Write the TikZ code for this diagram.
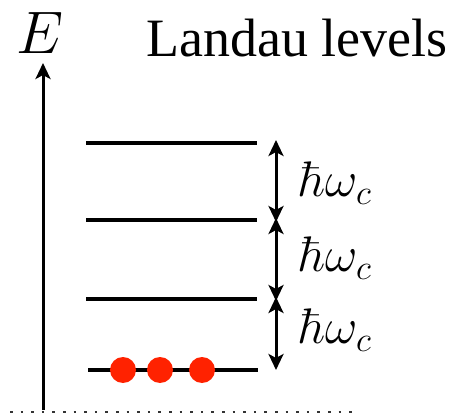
\documentclass[tikz,border=0pt]{standalone}
\usepackage{fix-cm}
\usepackage{amsmath}
\usepackage[no-math]{fontspec}
\setmainfont{Liberation Serif}
\usetikzlibrary{arrows.meta}
\definecolor{dot-red}{HTML}{FF2200}

\begin{document}
\begin{tikzpicture}[x=1pt, y=-1pt,
    level/.style={line width=3.3pt},
    gap/.style={line width=3pt, {Stealth[length=16pt,width=15pt,inset=4pt]}-{Stealth[length=16pt,width=15pt,inset=4pt]}},
    electron/.style={circle, fill=dot-red, inner sep=0pt, minimum size=26pt}]
    \useasboundingbox (0,0) rectangle (450,417);
    % energy axis
    \coordinate (base) at (43,410);
    \coordinate (top) at (43,63);
    \draw[line width=3pt, -{Stealth[length=16pt,width=15pt,inset=4pt]}] (base) -- (top);
    \node (elab) at (40,33) {\fontsize{60}{60}\selectfont$E$};
    \node[anchor=west] (title) at (143,38) {\fontsize{54}{54}\selectfont Landau levels};
    \draw[line width=2.6pt, dash pattern=on 2.6pt off 8pt, color=black!80] (10,412) -- (358,412);
    % levels
    \draw[level] (88,370) -- (258,370);
    \draw[level] (86,299) -- (257,299);
    \draw[level] (86,220) -- (257,220);
    \draw[level] (86,143) -- (257,143);
    % spacings
    \coordinate (g0) at (276,370);
    \coordinate (g1) at (276,297);
    \coordinate (g2) at (276,218);
    \coordinate (g3) at (276,140);
    \draw[gap] (g1) -- (g0);
    \draw[gap] (g2) -- ([yshift=-4pt]g1);
    \draw[gap] (g3) -- ([yshift=-4pt]g2);
    \foreach \y/\n in {183/w3, 258/w2, 330/w1}
      \node[anchor=west] (\n) at (296,\y) {\fontsize{50}{50}\selectfont$\hbar\omega_c$};
    % electrons in the lowest level
    \node[electron] (e1) at (123,370) {};
    \node[electron] (e2) at (160,370) {};
    \node[electron] (e3) at (202,370) {};
\end{tikzpicture}
\end{document}
